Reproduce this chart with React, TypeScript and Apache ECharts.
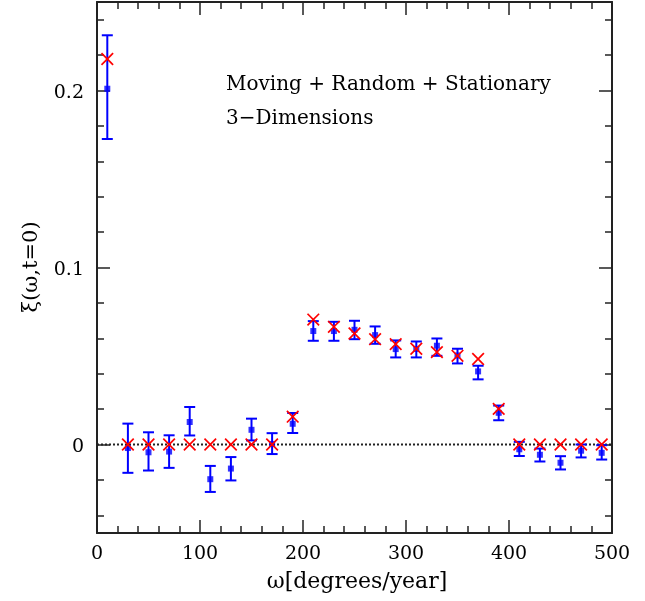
import React, { useEffect, useRef } from "react";
import * as echarts from "echarts";

const omega = [10, 30, 50, 70, 90, 110, 130, 150, 170, 190, 210, 230, 250, 270, 290, 310, 330, 350, 370, 390, 410, 430, 450, 470, 490];
const xiObs = [0.201, -0.002, -0.0044, -0.004, 0.0127, -0.0196, -0.0136, 0.0083, 0.0003, 0.0117, 0.0641, 0.0641, 0.0648, 0.0618, 0.0539, 0.054, 0.0558, 0.0503, 0.0413, 0.0179, -0.0027, -0.0058, -0.0103, -0.0035, -0.0047];
const xiUpper = [0.2312, 0.0118, 0.0069, 0.0052, 0.0212, -0.0121, -0.0071, 0.0146, 0.0064, 0.0178, 0.0697, 0.0693, 0.0699, 0.0667, 0.0588, 0.0582, 0.0599, 0.0541, 0.0445, 0.022, 0.0015, -0.0023, -0.0066, 0.0, -0.0004];
const xiLower = [0.1726, -0.016, -0.0147, -0.0132, 0.0051, -0.0268, -0.0203, 0.0023, -0.0054, 0.0065, 0.0586, 0.0586, 0.0595, 0.0569, 0.0492, 0.0492, 0.0501, 0.0458, 0.0368, 0.0137, -0.0065, -0.0096, -0.0141, -0.0073, -0.0085];
const xiModel = [0.2178, 0, 0, 0, 0, 0, 0, 0, 0, 0.0157, 0.0706, 0.0665, 0.0627, 0.0595, 0.0567, 0.0541, 0.0522, 0.0501, 0.0483, 0.0201, 0, 0, 0, 0, 0];

const yMajor = [0, 0.1, 0.2];
const yMinor = [-0.04, -0.02, 0.02, 0.04, 0.06, 0.08, 0.12, 0.14, 0.16, 0.18, 0.22, 0.24];

const FONT = "'DejaVu Serif', serif";
const AX = "#222";

export default function App() {
  const ref = useRef<HTMLDivElement>(null);
  useEffect(() => {
    if (!ref.current) return;
    const chart = echarts.init(ref.current, null, { renderer: "svg" });

    const xBase = (pos: "bottom" | "top", labels: boolean) => ({
      type: "value",
      position: pos,
      min: 0,
      max: 500,
      interval: 100,
      axisLine: { show: true, onZero: false, lineStyle: { color: AX, width: 2 } },
      axisTick: { show: true, inside: true, length: 13, lineStyle: { color: AX, width: 1.5 } },
      minorTick: { show: true, splitNumber: 5, length: 7, lineStyle: { color: AX, width: 1.5 } },
      axisLabel: { show: labels, margin: 9, color: "#000", fontFamily: FONT, fontSize: 19 },
      splitLine: { show: false },
      minorSplitLine: { show: false },
    });

    const yBase = (pos: "left" | "right", vals: number[], len: number, labels: boolean, line: boolean) => ({
      type: "value",
      position: pos,
      min: -0.05,
      max: 0.25,
      axisLine: { show: line, onZero: false, lineStyle: { color: AX, width: 2 } },
      axisTick: { show: true, inside: true, length: len, customValues: vals, lineStyle: { color: AX, width: 1.5 } },
      axisLabel: {
        show: labels,
        customValues: yMajor,
        margin: 13,
        color: "#000",
        fontFamily: FONT,
        fontSize: 19,
        formatter: (v: number) => (Math.abs(v) < 1e-9 ? "0" : String(+v.toFixed(1))),
      },
      splitLine: { show: false },
    });

    const obsData = omega.map((x, i) => [x, xiObs[i]]);
    const errData = omega.map((x, i) => [x, xiLower[i], xiUpper[i]]);
    const modelData = omega.map((x, i) => [x, xiModel[i]]);

    chart.setOption({
      animation: false,
      grid: { left: 97, right: 33, top: 2, bottom: 68, containLabel: false },
      xAxis: [xBase("bottom", true), xBase("top", false)],
      yAxis: [
        yBase("left", yMajor, 13, true, true),
        yBase("left", yMinor, 7, false, false),
        yBase("right", yMajor, 13, false, true),
        yBase("right", yMinor, 7, false, false),
      ],
      graphic: [
        {
          type: "text",
          left: 226,
          top: 73,
          style: { text: "Moving + Random + Stationary", fill: "#000", font: `20px ${FONT}` },
        },
        {
          type: "text",
          left: 226,
          top: 107,
          style: { text: "3\u2212Dimensions", fill: "#000", font: `20px ${FONT}` },
        },
        {
          type: "text",
          x: 357,
          y: 580,
          style: { text: "\u03c9[degrees/year]", fill: "#000", font: `22px ${FONT}`, align: "center", verticalAlign: "middle" },
        },
        {
          type: "text",
          x: 30,
          y: 267,
          rotation: Math.PI / 2,
          style: { text: "\u03be(\u03c9,t=0)", fill: "#000", font: `21px ${FONT}`, align: "center", verticalAlign: "middle" },
        },
      ],
      series: [
        {
          type: "line",
          data: [[0, 0], [500, 0]],
          symbol: "none",
          silent: true,
          lineStyle: { color: "#222", width: 2, type: "dotted" },
          z: 1,
        },
        {
          type: "custom",
          data: errData,
          encode: { x: 0, y: [1, 2] },
          z: 2,
          renderItem: (params: any, api: any) => {
            const x = api.value(0);
            const lo = api.coord([x, api.value(1)]);
            const hi = api.coord([x, api.value(2)]);
            const w = 5.5;
            const st = { stroke: "#0000ff", lineWidth: 2 };
            return {
              type: "group",
              children: [
                { type: "line", shape: { x1: lo[0], y1: lo[1], x2: hi[0], y2: hi[1] }, style: st },
                { type: "line", shape: { x1: lo[0] - w, y1: lo[1], x2: lo[0] + w, y2: lo[1] }, style: st },
                { type: "line", shape: { x1: hi[0] - w, y1: hi[1], x2: hi[0] + w, y2: hi[1] }, style: st },
              ],
            };
          },
        },
        {
          type: "scatter",
          data: obsData,
          symbol: "rect",
          symbolSize: 6,
          itemStyle: { color: "#0000ff" },
          z: 3,
        },
        {
          type: "custom",
          data: modelData,
          encode: { x: 0, y: 1 },
          z: 4,
          renderItem: (params: any, api: any) => {
            const p = api.coord([api.value(0), api.value(1)]);
            const h = 5.8;
            const st = { stroke: "#ff0000", lineWidth: 1.7 };
            return {
              type: "group",
              children: [
                { type: "line", shape: { x1: p[0] - h, y1: p[1] - h, x2: p[0] + h, y2: p[1] + h }, style: st },
                { type: "line", shape: { x1: p[0] - h, y1: p[1] + h, x2: p[0] + h, y2: p[1] - h }, style: st },
              ],
            };
          },
        },
      ],
    });
    return () => chart.dispose();
  }, []);
  return <div ref={ref} style={{ position: "fixed", left: 0, top: 0, width: 645, height: 601 }} />;
}
